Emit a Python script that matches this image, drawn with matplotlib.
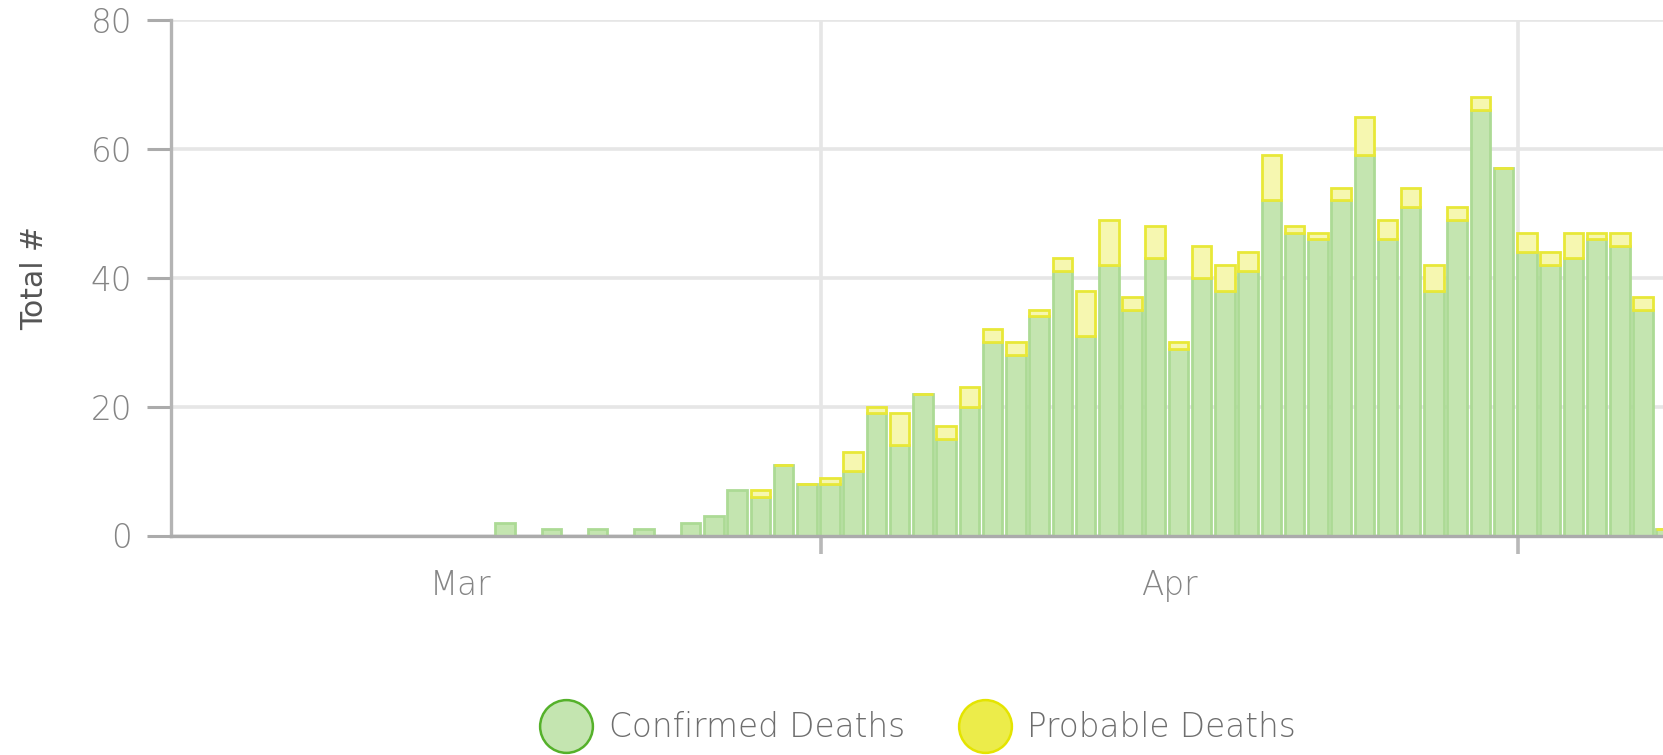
import matplotlib
matplotlib.use("Agg")
import matplotlib.pyplot as plt
import matplotlib.dates as mdates
from matplotlib.lines import Line2D
import numpy as np
import pandas as pd

# ---------------- data ----------------
dates = pd.date_range("2020-03-18", "2020-05-07", freq="D")
confirmed = [2, 0, 1, 0, 1, 0, 1, 0, 2, 3, 7, 6, 11, 8,
             8, 10, 19, 14, 22, 15, 20, 30, 28, 34, 41, 31, 42, 35, 43, 29,
             40, 38, 41, 52, 47, 46, 52, 59, 46, 51, 38, 49, 66, 57,
             44, 42, 43, 46, 45, 35, 1]
probable = [np.nan] * 11 + [1, 0, 0,
            1, 3, 1, 5, 0, 2, 3, 2, 2, 1, 2, 7, 7, 2, 5, 1,
            5, 4, 3, 7, 1, 1, 2, 6, 3, 3, 4, 2, 2, 0,
            3, 2, 4, 1, 2, 2, 0]
series_names = ["Confirmed Deaths", "Probable Deaths"]
y_ticks = [0, 20, 40, 60, 80]
y_label = "Total #"

# ---------------- style ----------------
plt.rcParams["font.family"] = ["DejaVu Sans"]
green_fill, green_edge = "#c4e5b0", "#acda95"
yellow_fill, yellow_edge = "#f6f7b0", "#e8e838"
grid_c = "#e6e6e6"
axis_c = "#ababab"
tick_c = "#858585"
FS = 23.5

fig = plt.figure(figsize=(16.63, 7.55), dpi=100)
ax = fig.add_axes([171 / 1663, (755 - 535.5) / 755, 1 - 171 / 1663, (535.5 - 20) / 755])

x = mdates.date2num(dates) + 0.4
conf = np.array(confirmed, dtype=float)
prob = np.array(probable, dtype=float)
w = 0.84
ax.bar(x, conf, width=w, color=green_fill, edgecolor=green_edge, linewidth=2.0, zorder=3)
mask = ~np.isnan(prob)
ax.bar(x[mask], prob[mask], bottom=conf[mask], width=w, color=yellow_fill,
       edgecolor=yellow_edge, linewidth=2.0, zorder=3)

ax.set_ylim(0, 80)
x0 = mdates.date2num(pd.Timestamp("2020-04-01")) - 27.97
x1 = mdates.date2num(pd.Timestamp("2020-04-01")) + 36.26
ax.set_xlim(x0, x1)

ax.set_yticks(y_ticks)
ax.yaxis.grid(True, color=grid_c, linewidth=2.6, zorder=0)
ax.xaxis.set_major_locator(mdates.MonthLocator())
ax.xaxis.set_major_formatter(plt.NullFormatter())
ax.xaxis.grid(True, which="major", color=grid_c, linewidth=2.6, zorder=0)
mid_ticks = [mdates.date2num(pd.Timestamp("2020-03-16 12:00")),
             mdates.date2num(pd.Timestamp("2020-04-16 00:00"))]
ax.set_xticks(mid_ticks, minor=True)
ax.set_xticklabels(["Mar", "Apr"], minor=True, fontweight="light")
ax.tick_params(axis="x", which="minor", length=0, pad=24, labelsize=FS, labelcolor=tick_c)
ax.tick_params(axis="x", which="major", length=13, width=2.6, color="#b8b8b8")
ax.tick_params(axis="y", length=17, width=2.2, color=axis_c, pad=11,
               labelsize=FS, labelcolor=tick_c)
for lab in ax.get_yticklabels():
    lab.set_fontweight("light")

for s in ["top", "right"]:
    ax.spines[s].set_visible(False)
ax.spines["left"].set_color("#b4b4b4")
ax.spines["left"].set_linewidth(2.4)
ax.spines["bottom"].set_color(axis_c)
ax.spines["bottom"].set_linewidth(2.4)
ax.spines["bottom"].set_zorder(4)

ax.set_ylabel(y_label, fontsize=21.5, color="#555555")
ax.yaxis.set_label_coords(-0.082, 0.5)

handles = [Line2D([], [], marker="o", linestyle="none", markersize=38,
                  markerfacecolor="#c4e5b0", markeredgecolor="#55b12a", markeredgewidth=1.8),
           Line2D([], [], marker="o", linestyle="none", markersize=38,
                  markerfacecolor="#ecec4a", markeredgecolor="#e4e400", markeredgewidth=1.8)]
leg = fig.legend(handles, series_names, loc="center", bbox_to_anchor=(0.550, 0.036), ncol=2,
                 frameon=False, labelcolor="#6e6e6e", handletextpad=0.3,
                 columnspacing=1.45, borderaxespad=0, prop={"size": FS, "weight": "light"})

fig.savefig("out.png", dpi=100)
